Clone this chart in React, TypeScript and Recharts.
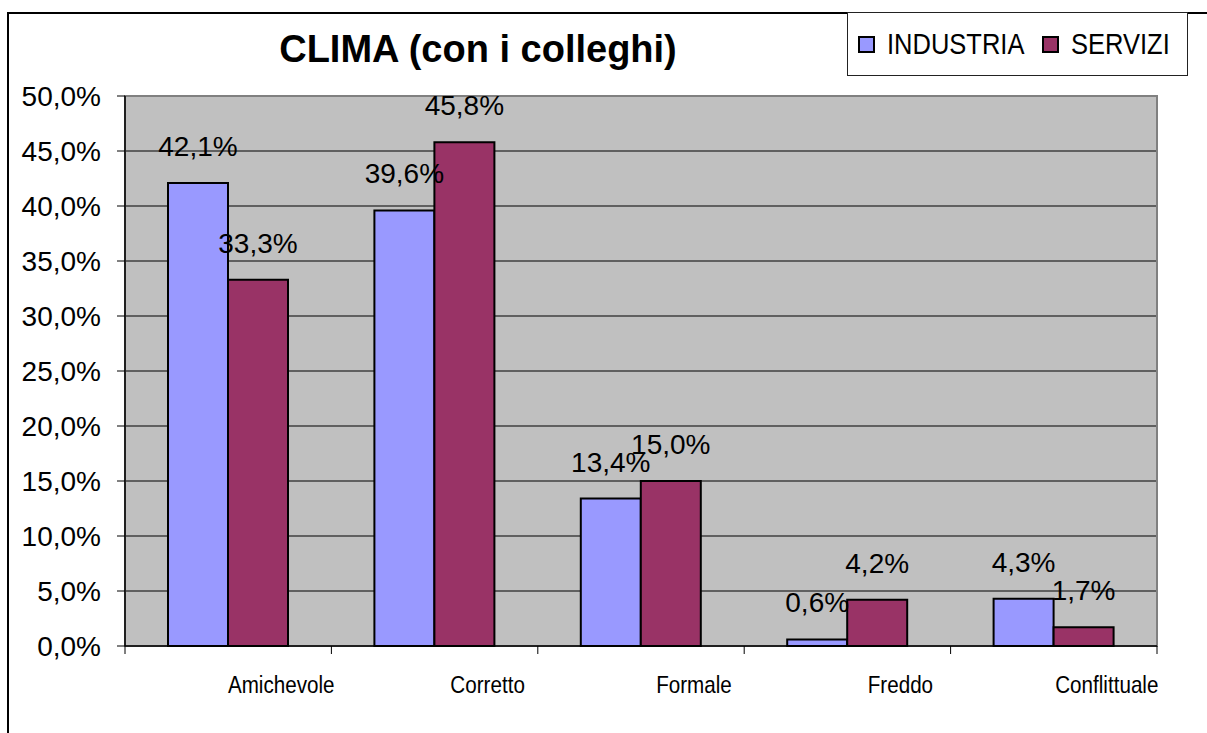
import React from 'react';
import { BarChart, Bar, XAxis, YAxis, CartesianGrid, Legend, LabelList, ReferenceArea } from 'recharts';

const categories = ['Amichevole', 'Corretto', 'Formale', 'Freddo', 'Conflittuale'];
const industria = [42.1, 39.6, 13.4, 0.6, 4.3];
const servizi = [33.3, 45.8, 15.0, 4.2, 1.7];
const yTicks = [0, 5, 10, 15, 20, 25, 30, 35, 40, 45, 50];

const seriesNames = ['INDUSTRIA', 'SERVIZI'];
const seriesColors = ['#9999FF', '#993366'];

const FONT = '"Liberation Sans", Arial, sans-serif';

const data = categories.map((name, i) => ({ name, industria: industria[i], servizi: servizi[i] }));

const pct = (v: number) => v.toFixed(1).replace('.', ',') + '%';

const CategoryTick = (props: any) => {
    const { x, y, payload, index, visibleTicksCount, width } = props;
    const half = payload.offset || (width ? width / (2 * categories.length) : 0);
    const isLast = index === visibleTicksCount - 1;
    return (
        <g>
            <line x1={x - half} x2={x - half} y1={y - 8} y2={y} stroke="#000" />
            {isLast && <line x1={x + half} x2={x + half} y1={y - 8} y2={y} stroke="#000" />}
            <text
                transform={`translate(${x + 53},${y + 39}) scale(0.86,1)`}
                textAnchor="middle"
                fontSize={24}
                fontFamily={FONT}
                fill="#000"
            >
                {payload.value}
            </text>
        </g>
    );
};

const LegendBox = () => (
    <div
        style={{
            boxSizing: 'border-box',
            width: 341,
            height: 64,
            border: '1px solid #222',
            background: '#fff',
            display: 'flex',
            alignItems: 'center',
            paddingLeft: 10,
            fontFamily: FONT,
            fontSize: 30,
            color: '#000',
        }}
    >
        {seriesNames.map((n, i) => (
            <span key={n} style={{ display: 'flex', alignItems: 'center', marginRight: 14 }}>
                <span
                    style={{
                        display: 'inline-block',
                        boxSizing: 'border-box',
                        width: 17,
                        height: 17,
                        background: seriesColors[i],
                        border: '2px solid #000',
                        marginRight: 12,
                    }}
                />
                <span
                    style={{
                        display: 'inline-block',
                        width: i === 0 ? 141 : 105,
                        whiteSpace: 'nowrap',
                        transform: 'scaleX(0.85)',
                        transformOrigin: 'left center',
                    }}
                >
                    {n}
                </span>
            </span>
        ))}
    </div>
);

export default function App() {
    return (
        <div style={{ position: 'absolute', left: 0, top: 0, width: 1207, height: 733, overflow: 'hidden', background: '#fff' }}>
            <div
                style={{
                    position: 'absolute',
                    left: 7,
                    top: 12,
                    width: 1300,
                    height: 800,
                    border: '2px solid #000',
                }}
            />
            <div
                style={{
                    position: 'absolute',
                    left: 0,
                    width: 956,
                    top: 28,
                    textAlign: 'center',
                    fontFamily: FONT,
                    fontWeight: 'bold',
                    fontSize: 38,
                    color: '#000',
                }}
            >
                CLIMA (con i colleghi)
            </div>
            <div style={{ position: 'absolute', left: 0, top: 0 }}>
                <BarChart
                    width={1207}
                    height={733}
                    data={data}
                    margin={{ top: 96, right: 50, bottom: 0, left: 0 }}
                    barCategoryGap={43}
                    barGap={0}
                >
                    <CartesianGrid vertical={false} fill="#C0C0C0" stroke="#000" strokeOpacity={1} />
                    <ReferenceArea
                        x1={categories[0]}
                        x2={categories[categories.length - 1]}
                        y1={0}
                        y2={50}
                        fill="none"
                        stroke="#808080"
                        strokeWidth={2}
                        fillOpacity={0}
                    />
                    <XAxis
                        dataKey="name"
                        height={87}
                        interval={0}
                        tickLine={false}
                        tickSize={8}
                        tickMargin={0}
                        axisLine={{ stroke: '#000', strokeWidth: 1.5 }}
                        tick={<CategoryTick />}
                    />
                    <YAxis
                        width={125}
                        domain={[0, 50]}
                        ticks={yTicks}
                        interval={0}
                        tickFormatter={pct}
                        tickSize={8}
                        tickMargin={16}
                        tickLine={{ stroke: '#000' }}
                        axisLine={{ stroke: '#000', strokeWidth: 1.5 }}
                        tick={{ fontSize: 28, fill: '#000', fontFamily: FONT }}
                    />
                    <Legend
                        layout="horizontal"
                        verticalAlign="middle"
                        align="center"
                        wrapperStyle={{ position: 'absolute', left: 847, top: 12, width: 341, height: 64 }}
                        content={() => <LegendBox />}
                    />
                    <Bar dataKey="industria" name={seriesNames[0]} fill={seriesColors[0]} stroke="#000" strokeWidth={2} isAnimationActive={false}>
                        <LabelList dataKey="industria" position="top" offset={27} formatter={(v: any) => pct(Number(v))} fill="#000" fontSize={28} fontFamily={FONT} />
                    </Bar>
                    <Bar dataKey="servizi" name={seriesNames[1]} fill={seriesColors[1]} stroke="#000" strokeWidth={2} isAnimationActive={false}>
                        <LabelList dataKey="servizi" position="top" offset={27} formatter={(v: any) => pct(Number(v))} fill="#000" fontSize={28} fontFamily={FONT} />
                    </Bar>
                </BarChart>
            </div>
        </div>
    );
}
